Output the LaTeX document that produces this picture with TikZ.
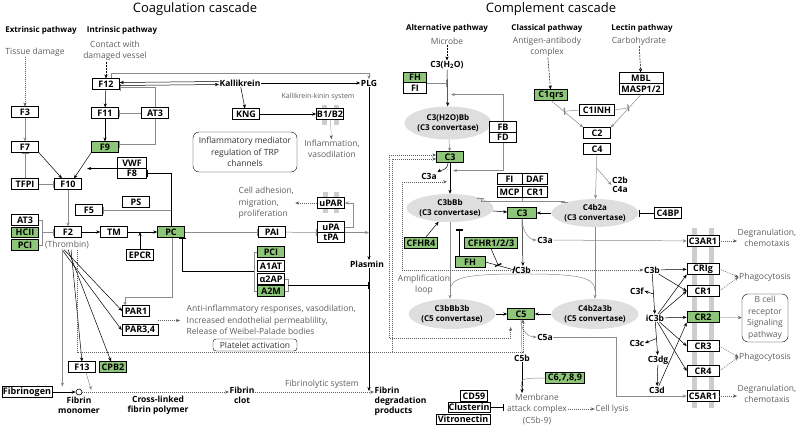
\documentclass[tikz,border=0pt]{standalone}
\usepackage{fontspec}
\setmainfont{Open Sans}
\usetikzlibrary{arrows.meta,calc,shapes.geometric}
\definecolor{kgreen}{RGB}{141,198,120}
\definecolor{convgray}{RGB}{222,222,222}
\definecolor{lgray}{RGB}{140,140,140}
\definecolor{txtgray}{RGB}{95,95,95}
\definecolor{memgray}{RGB}{205,205,205}
\newcommand\kfont{\fontsize{9}{10}\selectfont\bfseries}
\tikzset{
  gene/.style={draw, line width=0.6pt, fill=white, inner sep=0.5pt, minimum width=27pt, minimum height=10.5pt, font=\kfont},
  ggene/.style={gene, fill=kgreen},
  conv/.style={ellipse, fill=convgray, inner sep=0pt, minimum width=80pt, minimum height=30pt, align=center, font=\fontsize{8}{10.5}\selectfont\bfseries},
  lbl/.style={inner sep=0.5pt, align=center, font=\fontsize{8.5}{10}\selectfont\bfseries},
  hdr/.style={inner sep=0.5pt, font=\fontsize{8}{9.5}\selectfont\bfseries},
  note/.style={inner sep=0.5pt, align=center, text=txtgray, font=\fontsize{8.5}{11.5}\selectfont},
  arr/.style={-{Stealth[length=4pt,width=3.2pt]}, line width=0.5pt},
  garr/.style={arr, draw=lgray},
  inh/.style={-{Bar[width=7pt,line width=1.3pt]}, line width=0.5pt},
  ginh/.style={inh, draw=lgray},
  dots/.style={arr, draw=txtgray, dash pattern=on 1pt off 1pt},
  dsh/.style={arr, dash pattern=on 2pt off 1pt}
}
\begin{document}
\begin{tikzpicture}[x=1pt,y=-1pt]
\fill[white] (0,0) rectangle (800,429);
\useasboundingbox (0,0) rectangle (800,429);
% membranes
\fill[memgray] (692,228) rectangle (697,408);
\fill[memgray] (709,228) rectangle (714,408);
\fill[memgray] (322,105) rectangle (327,125);
\fill[memgray] (334,105) rectangle (339,125);
\fill[memgray] (323,192) rectangle (328,213);
\fill[memgray] (334,192) rectangle (339,213);

% ---------------- coagulation cascade
\node[font=\fontsize{13}{15}\selectfont] (coagT) at (195,9) {Coagulation cascade};
\node[hdr] (extP) at (41,30) {Extrinsic pathway};
\node[hdr] (intP) at (122,30) {Intrinsic pathway};
\node[note] (tissue) at (35,52) {Tissue damage};
\node[note] (contact) at (115,51) {Contact with\\damaged vessel};

\node[gene] (F3) at (25,112) {F3};
\node[gene] (F7) at (25,147) {F7};
\node[gene] (TFPI) at (25,184) {TFPI};
\node[gene] (F12) at (106,84) {F12};
\node[gene] (F11) at (105,113) {F11};
\node[gene] (AT3a) at (155,113) {AT3};
\node[ggene] (F9) at (105,147) {F9};
\node[gene] (F10) at (68,184) {F10};
\node[gene, minimum width=29pt] (VWF) at (132,163) {VWF};
\node[gene, minimum width=29pt] (F8) at (132,173.5) {F8};
\node[gene] (F5) at (89,210) {F5};
\node[gene] (PS) at (136,202) {PS};
\node[gene] (AT3b) at (25,220) {AT3};
\node[ggene] (HCII) at (25,232.5) {HCII};
\node[ggene] (PCIa) at (25,245) {PCI};
\node[gene] (F2) at (68,232) {F2};
\node[note] (thrombin) at (67,245) {(Thrombin)};
\node[gene] (TM) at (114,232) {TM};
\node[ggene] (PC) at (171,232) {PC};
\node[gene] (EPCR) at (140,255) {EPCR};
\node[gene] (PAI) at (272,232) {PAI};
\node[gene] (uPA) at (331,227) {uPA};
\node[gene] (tPA) at (331,237.5) {tPA};
\node[gene] (uPAR) at (331,203) {uPAR};
\node[note, align=left, anchor=west] (adhesion) at (238,203) {Cell adhesion,\\migration,\\proliferation};
\node[lbl] (Kal) at (240,83) {Kallikrein};
\node[lbl] (PLG) at (369,83) {PLG};
\node[gene] (KNG) at (246,114) {KNG};
\node[gene] (B12) at (330,114) {B1/B2};
\node[note, font=\fontsize{7}{8}\selectfont] (kks) at (318,97) {Kallikrein-kinin system};
\node[note] (inflam) at (332,149) {Inflammation,\\vasodilation};
\node[draw, rounded corners=6pt, note, text=black!80, minimum width=104pt, minimum height=40pt] (trp) at (245,152) {Inflammatory mediator\\regulation of TRP\\channels};
\node[lbl] (plasmin) at (367,264) {Plasmin};
\node[ggene] (PCIb) at (271,252) {PCI};
\node[gene] (A1AT) at (271,266) {A1AT};
\node[gene] (a2AP) at (271,279) {α2AP};
\node[ggene] (A2M) at (271,291) {A2M};
\node[gene] (PAR1) at (136,311) {PAR1};
\node[gene, minimum width=36pt] (PAR34) at (140,330) {PAR3,4};
\node[note, align=left, anchor=west] (antiinf) at (186,320) {Anti-inflammatory responses, vasodilation,\\Increased endothelial permeablility,\\Release of Weibel-Palade bodies};
\node[draw, rounded corners=3pt, note, text=black!80, minimum width=84pt, minimum height=12pt] (platelet) at (255,345) {Platelet activation};
\node[gene] (F13) at (82,367) {F13};
\node[ggene] (CPB2) at (113,367) {CPB2};
\node[gene, minimum width=50pt] (Fbg) at (27,392) {Fibrinogen};
\node[circle, draw, line width=0.6pt, minimum size=6pt, inner sep=0pt] (mono) at (79,392) {};
\node[lbl, anchor=north] (monoT) at (79,396) {Fibrin\\monomer};
\node[lbl] (xlink) at (158,405) {Cross-linked\\fibrin polymer};
\node[lbl, anchor=north] (clot) at (242,386) {Fibrin\\clot};
\node[note] (fibrinolytic) at (322,384) {Fibrinolytic system};
\node[lbl, anchor=north west, align=left] (FDP) at (374,386) {Fibrin\\degradation\\products};

\draw[dots] (tissue.south -| F3.north) -- (F3.north);
\draw[dsh] (contact.south -| F12.north) -- (F12.north);
\draw[garr] (F3) -- (F7);
\draw[ginh] (TFPI) -- (F7);
\draw[ginh] (TFPI) -- (F10);
\draw[arr] (F7.south east) -- ($(F10.north)+(-6,0)$);
\draw[arr] (F9.south west) -- ($(F10.north)+(6,0)$);
\draw[arr] (F12) -- (F11);
\draw[arr] (F11) -- (F9);
\draw[ginh] (AT3a) -- (F11);
\draw[ginh] (AT3a.north) |- ($(F12.east)+(0,3)$);
\draw[ginh] (AT3a.south) |- ($(F9.east)+(0,-3)$);
\draw[arr] ($(F12.east)+(0,1.5)$) -- ($(Kal.west)+(0,1.5)$);
\draw[arr] ($(Kal.west)+(0,-1.5)$) -- ($(F12.east)+(0,-1.5)$);
\draw[garr] ($(F12.north)+(5,0)$) -- ++(0,-5) -| (PLG.north);
\draw[arr] (Kal) -- (PLG);
\draw[arr] (Kal) -- (KNG);
\draw[arr] (KNG) -- (B12);
\draw[dots] (B12) -- (inflam);
\draw[arr] (PLG.south) -- (PLG.south |- plasmin.north);
\draw[garr] (F10) -- (F2);
\draw[arr] (F2) -- (TM);
\draw[arr] (TM) -- (PC);
\draw[arr] (EPCR) -- (EPCR |- TM.east);
\draw[lgray, line width=0.5pt] (AT3b.east) -- ++(3,0) |- (PCIa.east);
\draw[ginh] ($(AT3b.east)+(3,12)$) -- (F2.west);
\draw[inh] (PC.north) |- (F8.east);
\draw[ginh] (PC.north |- F5.east) -- (F5.east);
\draw[arr] (VWF.south west) -- ++(-30,0);
\draw[ginh] (PC) -- (PAI);
\draw[ginh] (PAI) -- (uPA.south west);
\draw[garr] (uPA.east) -- ++(8,0) |- (uPAR.east);
\draw[dots] (uPAR.west) -- ++(-22,0);
\draw[garr] (uPA.south east) -- (PLG.south |- uPA.south east);
\draw[lgray, line width=0.5pt] (PCIb.west) -- ++(-3,0) |- (A2M.west);
\draw[inh] ($(PCIb.west)+(-3,19)$) -| ($(PC.south)+(11,0)$);
\draw[lgray, line width=0.5pt] (a2AP.east) -- ++(3,0) |- (A2M.east);
\coordinate (pg) at ($(a2AP.east)+(3,6)$);
\draw[inh] (pg) -- (pg -| PLG.south);
\draw[garr] ($(PC.south)+(1,0)$) -- ++(0,60) -| ($(PAR1.north)+(-11,0)$);
\draw[arr] ($(thrombin.south)+(-3,0)$) -- (PAR1.west);
\draw[arr] ($(thrombin.south)+(-5,0)$) -- (PAR34.west);
\draw[arr] ($(thrombin.south)+(1,0)$) -- ($(CPB2.north)+(-2,0)$);
\draw[arr] ($(thrombin.south)+(4,0)$) -- (F13.north);
\draw[garr] ($(thrombin.south west)+(18,0)$) -- ++(0,137);
\draw[garr] ($(F13.south)+(4,0)$) -- ($(mono.east)+(9,-2)$);
\draw[arr] (Fbg) -- (mono);
\draw[dots] (mono.east) -- (mono.east -| clot.west);
\draw[dots] (clot.east |- mono) -- (FDP.west |- mono);
\draw[arr] (PLG.south |- plasmin.south) -- ($(PLG.south |- mono)+(0,-1)$);
\draw[dots] ($(PAR1.east)!0.5!(PAR34.east)+(4,0)$) -- ++(22,0);

% ---------------- complement cascade
\node[font=\fontsize{13}{15}\selectfont] (complT) at (551,9) {Complement cascade};
\node[hdr] (altP) at (447,28) {Alternative pathway};
\node[note] (microbe) at (447,41) {Microbe};
\node[hdr] (classP) at (547,28) {Classical pathway};
\node[note] (antigen) at (547,47) {Antigen-antibody\\complex};
\node[hdr] (lectP) at (642,28) {Lectin pathway};
\node[note] (carbo) at (639,41) {Carbohydrate};
\node[lbl] (C3H2O) at (447,65) {C3(H\textsubscript{2}O)};
\node[ggene, minimum width=23pt] (FH) at (415,77.5) {FH};
\node[gene, minimum width=23pt] (FI) at (415,88) {FI};
\node[conv, minimum width=83pt, minimum height=33pt] (C3H2OBb) at (448,123) {C3(H2O)Bb\\(C3 convertase)};
\node[gene] (FB) at (503,127) {FB};
\node[gene] (FD) at (503,137.5) {FD};
\node[ggene] (C3t) at (450,157) {C3};
\node[lbl] (C3a) at (429,176) {C3a};
\node[conv, minimum width=78pt, minimum height=28pt] (C3bBb) at (450,208) {C3bBb\\(C3 convertase)};
\node[gene, minimum width=25pt] (FIb) at (509.5,179) {FI};
\node[gene, minimum width=25pt] (DAF) at (535,179) {DAF};
\node[gene, minimum width=25pt] (MCP) at (509.5,192) {MCP};
\node[gene, minimum width=25pt] (CR1a) at (535,192) {CR1};
\node[ggene, minimum width=29pt] (C3m) at (522,213) {C3};
\node[conv, minimum width=78pt, minimum height=28pt] (C4b2a) at (595,213) {C4b2a\\(C3 convertase)};
\node[gene] (C4BP) at (668,213) {C4BP};
\node[lbl, font=\fontsize{8.5}{9.5}\selectfont\bfseries] (C2b) at (620,185) {C2b\\C4a};
\node[gene] (C2) at (597,133) {C2};
\node[gene] (C4) at (597,149) {C4};
\node[ggene, minimum width=33pt] (C1qrs) at (551,95) {C1qrs};
\node[gene, minimum width=35pt] (C1INH) at (597,110) {C1INH};
\node[gene, minimum width=44pt] (MBL) at (641,78) {MBL};
\node[gene, minimum width=44pt] (MASP) at (641,89) {MASP1/2};
\node[ggene, minimum width=33pt] (CFHR4) at (421,243) {CFHR4};
\node[ggene, minimum width=53pt] (CFHR) at (491,243) {CFHR1/2/3};
\node[ggene, minimum width=30pt] (FH2) at (470,262) {FH};
\node[lbl] (C3b) at (523,270) {C3b};
\node[lbl] (C3a2) at (545,240) {C3a};
\node[note] (amp) at (424,285) {Amplification\\loop};
\node[conv] (C3bBb3b) at (452,314) {C3bBb3b\\(C5 convertase)};
\node[conv] (C4b2a3b) at (595,314) {C4b2a3b\\(C5 convertase)};
\node[ggene] (C5) at (521,314) {C5};
\node[lbl] (C5a) at (545,337) {C5a};
\node[lbl] (C5b) at (522,358) {C5b};
\node[ggene, minimum width=39pt] (C6789) at (565,378) {C6,7,8,9};
\node[note, anchor=north] (MAC) at (537,393) {Membrane\\attack complex\\(C5b-9)};
\node[gene] (CD59) at (474,396) {CD59};
\node[gene, minimum width=39pt] (Clus) at (469,407.5) {Clusterin};
\node[gene, minimum width=54pt] (Vitro) at (463,419.5) {Vitronectin};
\node[note] (lysis) at (612,409) {Cell lysis};
\node[lbl] (C3bR) at (652,270) {C3b};
\node[lbl] (iC3b) at (655,318) {iC3b};
\node[lbl] (C3f) at (637,291) {C3f};
\node[lbl] (C3c) at (637,343) {C3c};
\node[lbl] (C3dg) at (658,360) {C3dg};
\node[lbl] (C3d) at (657,390) {C3d};
\node[gene, minimum width=32pt] (C3AR1) at (703,241) {C3AR1};
\node[gene, minimum width=32pt] (CRIg) at (703,269) {CRIg};
\node[gene, minimum width=32pt] (CR1b) at (703,291) {CR1};
\node[ggene, minimum width=32pt] (CR2) at (703,317) {CR2};
\node[gene, minimum width=32pt] (CR3) at (703,346) {CR3};
\node[gene, minimum width=32pt] (CR4) at (703,371) {CR4};
\node[gene, minimum width=32pt] (C5AR1) at (703,396) {C5AR1};
\node[note] (degr1) at (767,238) {Degranulation,\\chemotaxis};
\node[note] (phago1) at (765,277) {Phagocytosis};
\node[draw, rounded corners=6pt, note, minimum width=46pt, minimum height=48pt] (bcell) at (765,318) {B cell\\receptor\\Signaling\\pathway};
\node[note] (phago2) at (765,357) {Phagocytosis};
\node[note] (degr2) at (767,394) {Degranulation,\\chemotaxis};

\draw[dsh] (microbe) -- (C3H2O);
\draw[arr] (C3H2O) -- (C3H2OBb);
\draw[ginh] (FH.south east) -- (FH.south east -| C3H2O.south);
\draw[garr] (FB.north) |- ($(C3H2O.south)+(4,25)$);
\draw[garr] (C3H2OBb) -- (C3t);
\draw[arr] (C3t) -- (C3bBb);
\draw[arr] ($(C3t.south)+(-2,0)$) .. controls +(0,8) and +(3,-2) .. (C3a.north east);
\draw[garr] (FD.south) |- ($(C3t.south)+(3,8)$);
\draw[ginh] (MCP.south east) -- ++(0,4) -| (C3bBb.north east);
\draw[ginh] ($(MCP.south east)+(0,4)$) -| (C4b2a.north west);
\draw[arr] (C3bBb) -- (C3m);
\draw[arr] (C4b2a) -- (C3m);
\draw[garr] (C3m.south) .. controls +(0,14) and +(-6,0) .. (C3a2.west);
\draw[garr] (C3a2) -- (C3AR1);
\draw[arr] (C3m) -- (C3b);
\draw[arr] (CFHR4) -- (C3bBb);
\draw[inh] ($(FH2.north)+(-11,0)$) -- ++(0,-27);
\draw[inh] (FH2.east) -- (C3b.west);
\draw[inh] (CFHR.south) -- ($(FH2.east)!0.45!(C3b.west)$);
\draw[garr] (C3bBb.south) -- (C3bBb.south |- C3bBb3b.north);
\draw[garr] (C4b2a.south) -- (C4b2a.south |- C4b2a3b.north);
\draw[lgray, line width=0.5pt] (C3b.south) .. controls +(-55,0) and +(0,-14) .. ($(C3bBb.south |- C3bBb3b.north)+(0,-8)$);
\draw[lgray, line width=0.5pt] (C3b.south) .. controls +(55,0) and +(0,-14) .. ($(C4b2a.south |- C4b2a3b.north)+(0,-8)$);
\draw[arr] (C3bBb3b) -- (C5);
\draw[arr] (C4b2a3b) -- (C5);
\draw[garr] (C5.south) .. controls +(0,14) and +(-6,0) .. (C5a.west);
\draw[garr] (C5a.east) -- ++(63,0) |- (C5AR1.west);
\draw[lgray, line width=0.5pt] (C5) -- (C5b);
\draw[arr] (C5b.south) -- (C5b.south |- MAC.north);
\draw[garr] (C6789.west) .. controls +(-30,0) and +(0,-8) .. ($(C5b.south |- MAC.north)+(0,-4)$);
\draw[inh] (Clus.east) -- ++(14,0);
\draw[dots] (MAC.east |- lysis) -- (lysis.west);
\draw[garr] (C1qrs.south) -- (C2.north west);
\draw[garr] (MASP.south) -- (C2.north east);
\draw[ginh] (C1INH.west) -- ($(C1qrs.south)!0.4!(C2.north west)$);
\draw[ginh] (C1INH.east) -- ($(MASP.south)!0.4!(C2.north east)$);
\draw[dsh] (antigen) -- (C1qrs);
\draw[dsh] (carbo) -- (MBL);
\draw[garr] (C4) -- (C4b2a);
\draw[garr] ($(C4.south)+(0,14)$) -- (C2b.west);
\draw[inh] (C4BP) -- (C4b2a.east);
\draw[dots] (C3b) -- (C3bR);
\draw[arr] (C3bR) -- (CRIg);
\draw[arr] (C3bR) -- (CR1b.west);
\draw[arr] (C3bR) -- (iC3b);
\draw[arr] ($(C3bR.south)!0.5!(iC3b.north)$) -- (C3f.east);
\draw[arr] (iC3b) -- (CRIg.south west);
\draw[arr] (iC3b) -- (CR1b.west);
\draw[arr] (iC3b) -- (CR2);
\draw[arr] (iC3b) -- (CR3.west);
\draw[arr] (iC3b) -- (CR4.west);
\draw[arr] (iC3b) -- (C3dg);
\draw[arr] ($(iC3b.south)!0.5!(C3dg.north)$) -- (C3c.east);
\draw[arr] (C3dg) -- (C3d);
\draw[arr] (C3d) -- (CR2.south west);
\draw[dots] (C3AR1) -- (degr1.west |- C3AR1);
\draw[dots] (CRIg.east) -- (phago1.west);
\draw[dots] (CR1b.east) -- (phago1.west);
\draw[dots] (CR2) -- (bcell);
\draw[dots] (CR3.east) -- (phago2.west);
\draw[dots] (CR4.east) -- (phago2.west);
\draw[dots] (C5AR1) -- (degr2.west |- C5AR1);

% coagulation to complement
\draw[dots] ($(thrombin.south)+(10,0)$) |- ($(C5.south)+(2,33)$) -- ($(C5.south)+(2,0)$);
\draw[dots] ($(C3t.west)+(-44,195)$) |- ($(C3t.west)+(0,2)$);
\draw[dots, {Stealth[length=4pt,width=3.2pt]}-{Stealth[length=4pt,width=3.2pt]}] ($(C3t.west)+(0,-2)$) -- ++(-47,0) |- ($(C3bBb3b.east)+(15,24)$) -- ++(0,-11);
\draw[dots] ($(C3b.west)+(-3,0)$) -| ($(C3bBb.north)+(-48,-12)$) -- ($(C3bBb.north)+(-3,-12)$);
\end{tikzpicture}
\end{document}
